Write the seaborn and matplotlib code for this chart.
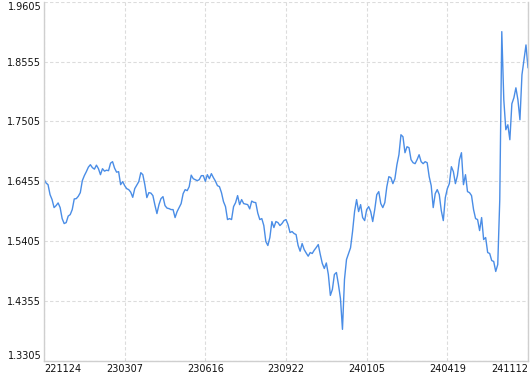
import numpy as np
import pandas as pd
import matplotlib
matplotlib.use("Agg")
import matplotlib.pyplot as plt
import seaborn as sns

# values (one sample per ~2px of plot width)
values = [
    1.6497, 1.6427, 1.6397, 1.6222, 1.6135, 1.5995, 1.6030, 1.6077, 1.5995, 1.5802,
    1.5715, 1.5732, 1.5846, 1.5872, 1.5960, 1.6147, 1.6152, 1.6193, 1.6257, 1.6467,
    1.6555, 1.6625, 1.6704, 1.6747, 1.6695, 1.6669, 1.6739, 1.6677, 1.6572, 1.6677,
    1.6634, 1.6651, 1.6642, 1.6774, 1.6800, 1.6686, 1.6616, 1.6625, 1.6397, 1.6450,
    1.6380, 1.6327, 1.6310, 1.6266, 1.6175, 1.6327, 1.6389, 1.6450, 1.6607, 1.6572,
    1.6397, 1.6170, 1.6257, 1.6249, 1.6205, 1.6039, 1.5890, 1.6047, 1.6152, 1.6187,
    1.6030, 1.5986, 1.5977, 1.5960, 1.5960, 1.5820, 1.5925, 1.5995, 1.6065, 1.6240,
    1.6310, 1.6292, 1.6362, 1.6564, 1.6502, 1.6485, 1.6467, 1.6485, 1.6555, 1.6555,
    1.6455, 1.6572, 1.6502, 1.6590, 1.6520, 1.6459, 1.6380, 1.6362, 1.6257, 1.6100,
    1.6012, 1.5785, 1.5802, 1.5785, 1.6012, 1.6082, 1.6205, 1.6047, 1.6135, 1.6065,
    1.6056, 1.6047, 1.5972, 1.6109, 1.6088, 1.6082, 1.5899, 1.5785, 1.5802, 1.5680,
    1.5400, 1.5330, 1.5470, 1.5750, 1.5645, 1.5750, 1.5732, 1.5680, 1.5715, 1.5767,
    1.5785, 1.5697, 1.5557, 1.5575, 1.5540, 1.5522, 1.5330, 1.5230, 1.5365, 1.5260,
    1.5199, 1.5143, 1.5207, 1.5190, 1.5248, 1.5295, 1.5347, 1.5172, 1.5015, 1.4927,
    1.5024, 1.4822, 1.4455, 1.4560, 1.4822, 1.4857, 1.4647, 1.4402, 1.3860, 1.4735,
    1.5085, 1.5190, 1.5290, 1.5575, 1.5925, 1.6135, 1.5925, 1.6047, 1.5820, 1.5767,
    1.5960, 1.6012, 1.5925, 1.5750, 1.5960, 1.6222, 1.6275, 1.6065, 1.5995, 1.6082,
    1.6362, 1.6537, 1.6520, 1.6415, 1.6502, 1.6747, 1.6922, 1.7272, 1.7237, 1.6957,
    1.7062, 1.7045, 1.6835, 1.6782, 1.6765, 1.6835, 1.6922, 1.6800, 1.6765, 1.6800,
    1.6782, 1.6537, 1.6380, 1.5995, 1.6240, 1.6310, 1.6222, 1.5942, 1.5767, 1.6170,
    1.6327, 1.6415, 1.6712, 1.6625, 1.6415, 1.6555, 1.6835, 1.6957, 1.6397, 1.6572,
    1.6275, 1.6257, 1.6205, 1.5960, 1.5802, 1.5785, 1.5592, 1.5820, 1.5435, 1.5470,
    1.5207, 1.5190, 1.5067, 1.5050, 1.4875, 1.4997, 1.6135, 1.9080, 1.7885, 1.7360,
    1.7447, 1.7185, 1.7815, 1.7920, 1.8095, 1.7885, 1.7535, 1.8322, 1.8585, 1.8847,
    1.8445,
]
tick_labels = ["221124", "230307", "230616", "230922", "240105", "240419", "241112"]
tick_pos = [0, 40, 80, 120, 160, 200, 240]
y_ticks = [1.3305, 1.4355, 1.5405, 1.6455, 1.7505, 1.8555, 1.9605]

df = pd.DataFrame({"idx": np.arange(len(values)), "value": values})

sns.set_theme(style="white")
plt.rcParams["font.family"] = ["DejaVu Sans"]

fig = plt.figure(figsize=(5.30, 3.74), dpi=100)
ax = fig.add_axes([44 / 530, 1 - 361 / 374, (528 - 44) / 530, (361 - 1.7) / 374])

sns.lineplot(data=df, x="idx", y="value", ax=ax, color="#4a8de6", linewidth=1.0)

ax.set_xlim(0, 240)
ax.set_ylim(1.3305, 1.9605)
ax.set_xticks(tick_pos)
ax.set_xticklabels(tick_labels)
ax.set_yticks(y_ticks)
ax.set_yticklabels([f"{v:.4f}" for v in y_ticks])
ax.set_xlabel("")
ax.set_ylabel("")

ax.grid(True, color="#dcdcdc", linestyle=(0, (3, 2)), linewidth=0.8)
ax.tick_params(axis="both", length=0, labelsize=7, colors="#111111")
ax.tick_params(axis="x", pad=2.5)
ax.tick_params(axis="y", pad=2)

xl = ax.get_xticklabels()
xl[0].set_ha("left")
xl[-1].set_ha("right")
yl = ax.get_yticklabels()
yl[0].set_va("bottom")
yl[-1].set_va("top")

for side in ["left", "bottom", "right"]:
    ax.spines[side].set_color("#cfcfcf")
    ax.spines[side].set_linewidth(1.0)
ax.spines["top"].set_visible(False)

fig.savefig("out.png", dpi=100, facecolor="white")
